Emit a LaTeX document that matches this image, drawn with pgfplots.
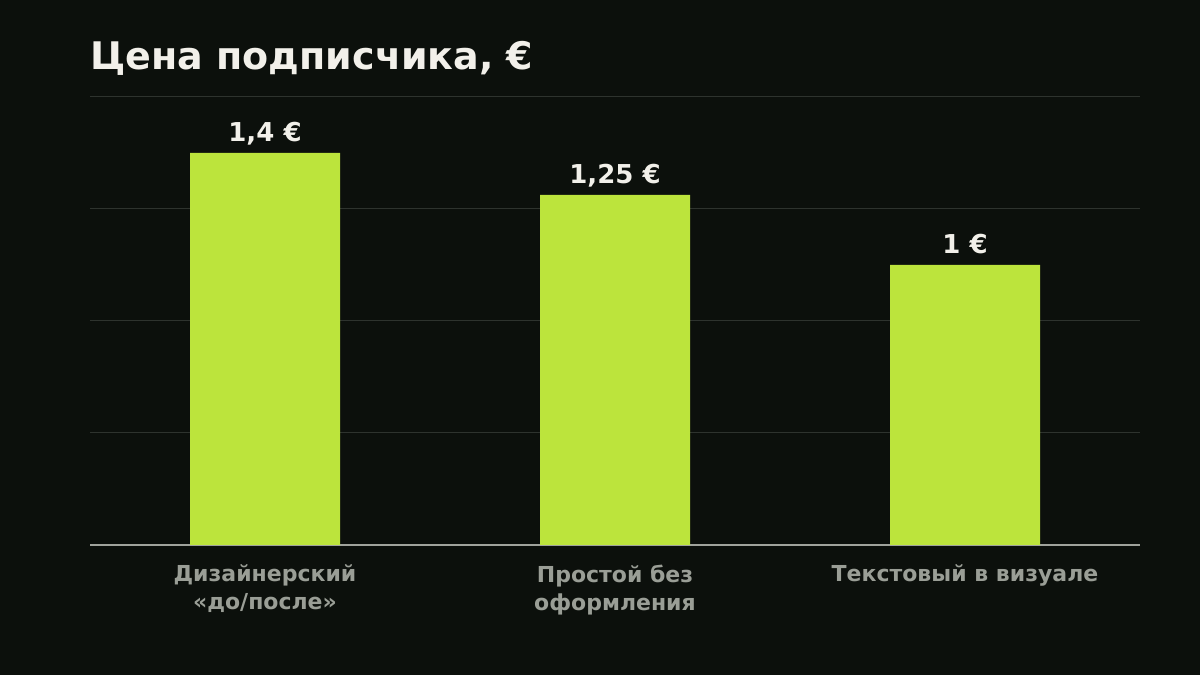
\documentclass[border=0pt]{standalone}
\usepackage{pgfplots}
\pgfplotsset{compat=1.18}
\usepackage{fontspec}
\setmainfont{DejaVu Sans}

\definecolor{bgdark}{HTML}{0C100C}
\definecolor{barlime}{HTML}{BCE43C}
\definecolor{offwhite}{HTML}{F2F0EA}
\definecolor{ticgray}{HTML}{9A9E96}
\definecolor{gridgray}{HTML}{2E332E}
\definecolor{basegray}{HTML}{A0A39C}

\begin{document}
\begin{tikzpicture}
% background, 1 px of the reference = 0.5pt
\fill[bgdark] (0,0) rectangle (600pt,337.5pt);
\useasboundingbox (0,0) rectangle (600pt,337.5pt);

\node[anchor=base west, inner sep=0pt, text=offwhite,
      font=\fontsize{19}{23}\selectfont\bfseries] at (45pt,302.5pt)
      {Цена подписчика, €};

\begin{axis}[
    at={(45pt,65pt)}, anchor=south west,
    scale only axis,
    width=525pt, height=224pt,
    xmin=-0.5, xmax=2.5,
    ymin=0, ymax=1.6,
    axis x line*=bottom,
    axis y line*=left,
    x axis line style={color=basegray, line width=1pt, -},
    y axis line style={draw=none},
    xtick={0,1,2},
    xticklabels={{Дизайнерский\\«до/после»},{Простой без\\оформления},{Текстовый в визуале}},
    xtick style={draw=none},
    ytick style={draw=none},
    xticklabel style={align=center, text=ticgray,
        font=\fontsize{11}{14}\selectfont\bfseries, yshift=-2pt},
    ytick={0.4,0.8,1.2,1.6},
    yticklabels={},
    ymajorgrids,
    major grid style={color=gridgray, line width=0.5pt},
    clip=false,
    ybar, bar width=75pt,
    point meta=explicit symbolic,
    nodes near coords,
    every node near coord/.append style={anchor=base, yshift=5.5pt,
        text=offwhite, font=\fontsize{13}{15}\selectfont\bfseries},
]
\addplot[fill=barlime, draw=none] coordinates {
    (0,1.4) [1,4 €]
    (1,1.25) [1,25 €]
    (2,1.0) [1 €]
};
\end{axis}
\end{tikzpicture}
\end{document}
